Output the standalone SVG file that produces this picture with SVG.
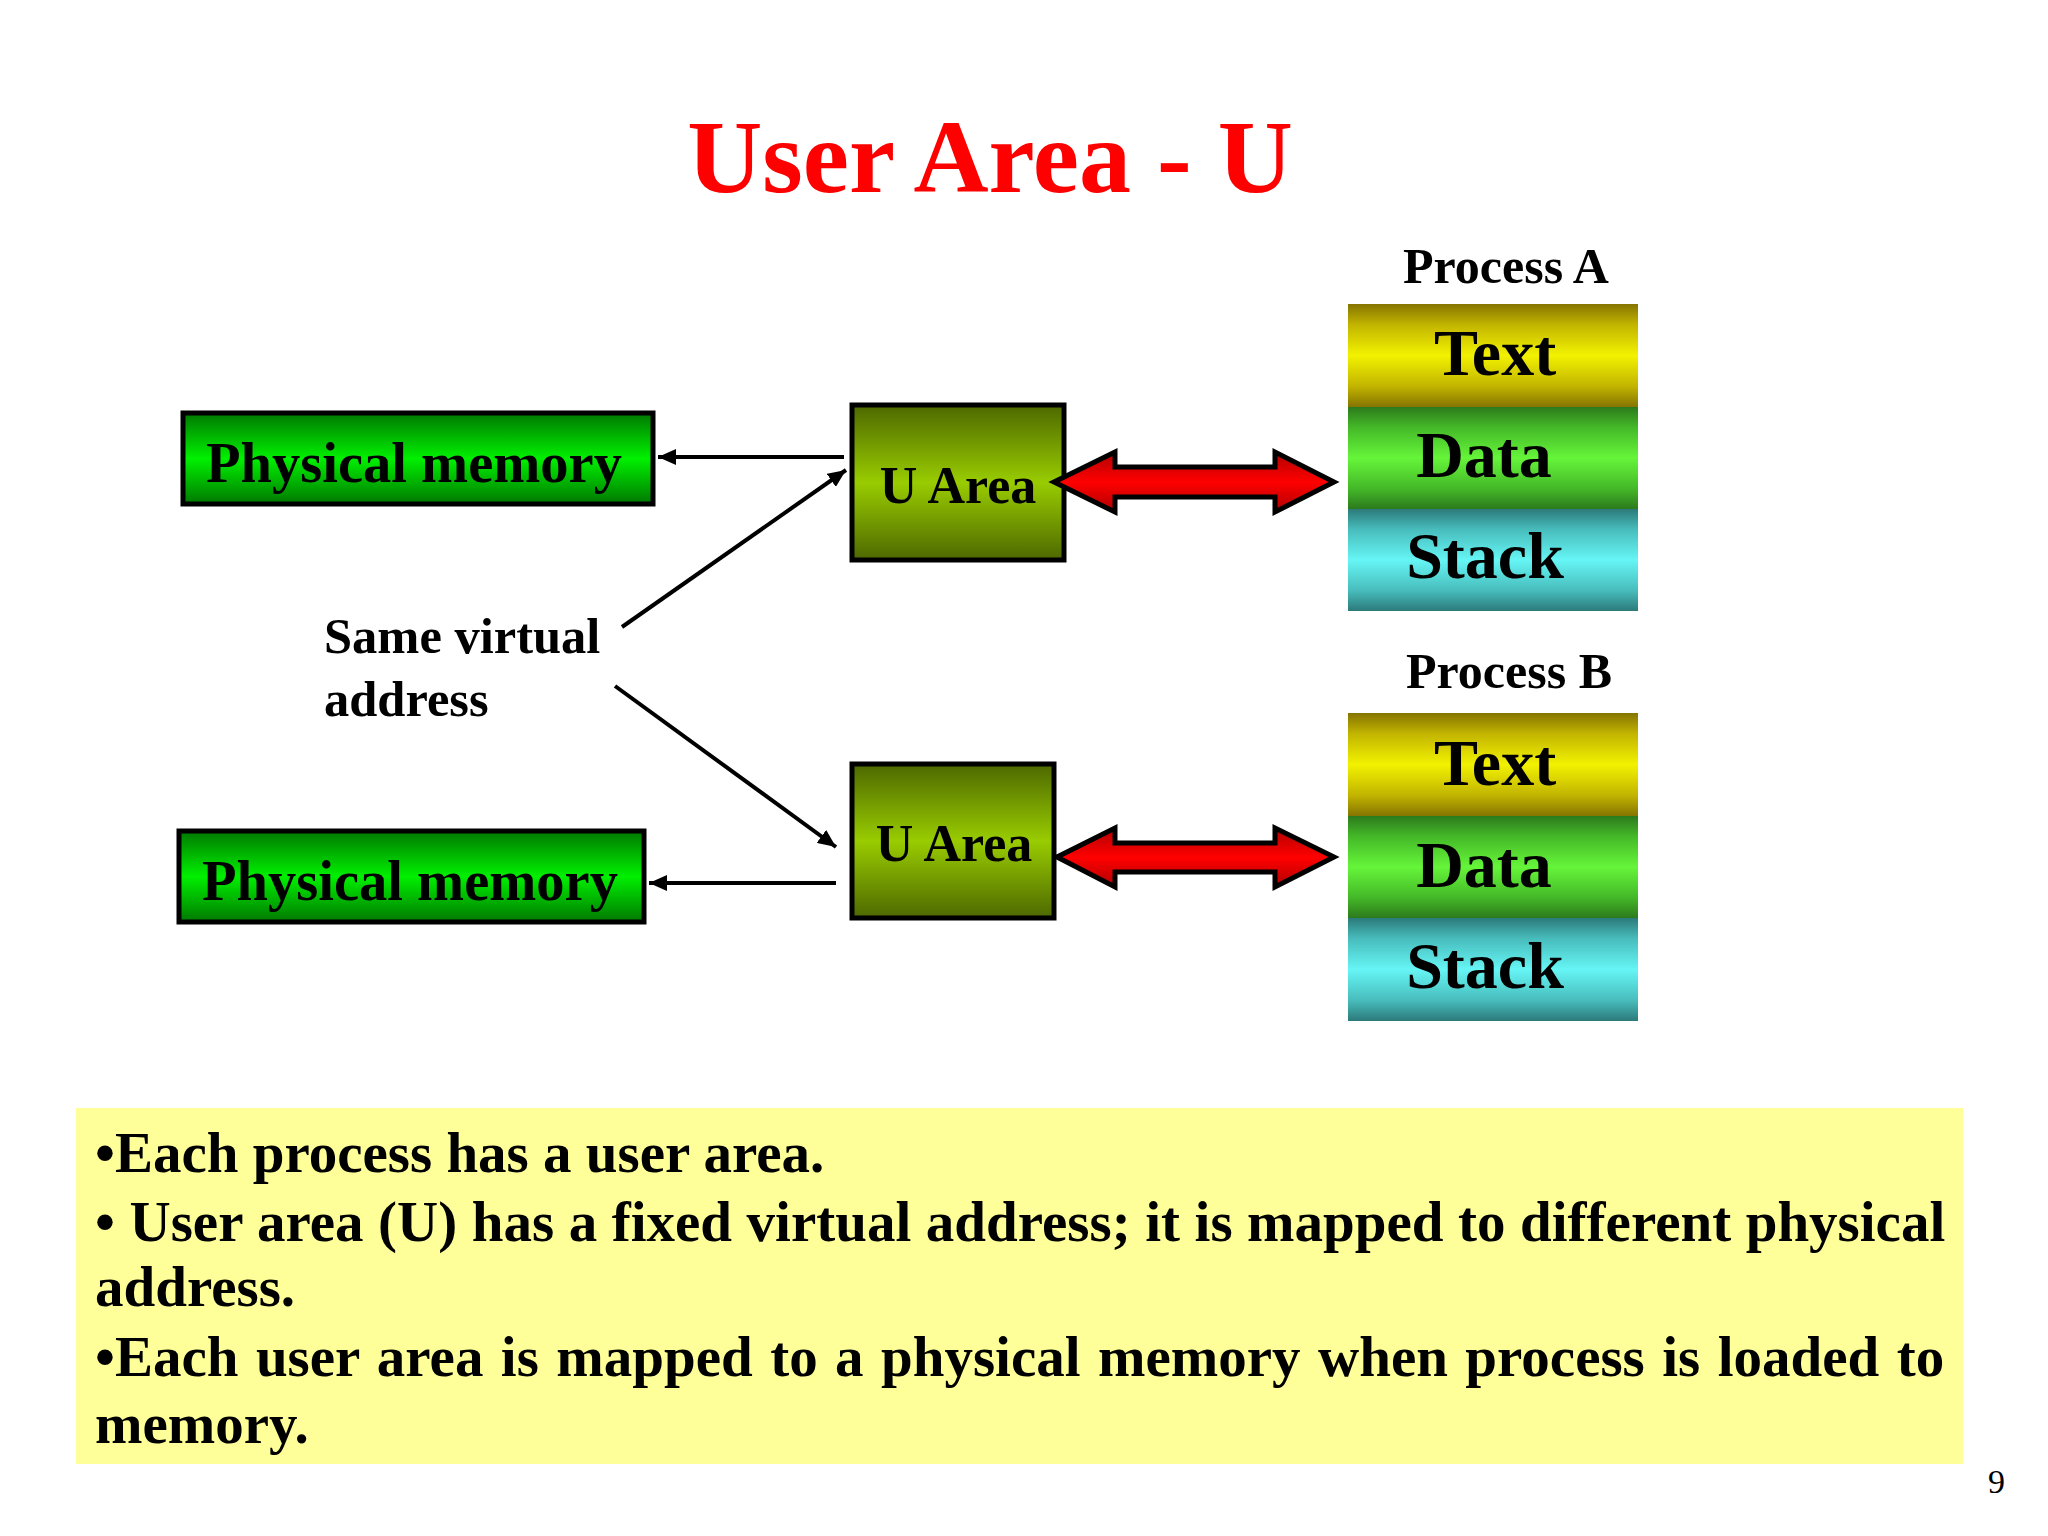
<svg xmlns="http://www.w3.org/2000/svg" width="2048" height="1536" viewBox="0 0 2048 1536">
<defs>
<style>
text{font-family:"Liberation Serif","Times New Roman",serif;font-weight:bold;fill:#000}
.title{font-size:104px;fill:#ff0000}
.pm{font-size:56.5px}
.ua{font-size:52px}
.proc{font-size:50px}
.seg{font-size:66px}
.lbl{font-size:50.5px}
.note{font-size:57px}
.num{font-size:34px;font-weight:normal}
.box{stroke:#000;stroke-width:5}
.conn{stroke:#000;stroke-width:4;fill:none}
.dbl{stroke:#000;stroke-width:5;stroke-linejoin:miter}
</style>
<linearGradient id="gGreen" x1="0" y1="0" x2="0" y2="1">
<stop offset="0" stop-color="#007800"/><stop offset="0.5" stop-color="#00f000"/><stop offset="1" stop-color="#007800"/>
</linearGradient>
<linearGradient id="gOlive" x1="0" y1="0" x2="0" y2="1">
<stop offset="0" stop-color="#4d6800"/><stop offset="0.5" stop-color="#99cc00"/><stop offset="1" stop-color="#4d6800"/>
</linearGradient>
<linearGradient id="gRed" x1="0" y1="0" x2="0" y2="1">
<stop offset="0" stop-color="#b00000"/><stop offset="0.5" stop-color="#ff0000"/><stop offset="1" stop-color="#b00000"/>
</linearGradient>
<linearGradient id="gYel" x1="0" y1="0" x2="0" y2="1">
<stop offset="0" stop-color="#857400"/><stop offset="0.2" stop-color="#c2b400"/><stop offset="0.5" stop-color="#f2f200"/><stop offset="0.8" stop-color="#c2b400"/><stop offset="1" stop-color="#857400"/>
</linearGradient>
<linearGradient id="gDat" x1="0" y1="0" x2="0" y2="1">
<stop offset="0" stop-color="#2c7a1c"/><stop offset="0.2" stop-color="#44b828"/><stop offset="0.5" stop-color="#66f53a"/><stop offset="0.8" stop-color="#44b828"/><stop offset="1" stop-color="#2c7a1c"/>
</linearGradient>
<linearGradient id="gStk" x1="0" y1="0" x2="0" y2="1">
<stop offset="0" stop-color="#2c7a7a"/><stop offset="0.2" stop-color="#48bcbc"/><stop offset="0.5" stop-color="#66f5f5"/><stop offset="0.8" stop-color="#48bcbc"/><stop offset="1" stop-color="#2c7a7a"/>
</linearGradient>
<marker id="ah" viewBox="0 0 18 16" refX="18" refY="8" markerWidth="18" markerHeight="16" markerUnits="userSpaceOnUse" orient="auto">
<path d="M0,0 L18,8 L0,16 Z" fill="#000"/>
</marker>
</defs>
<rect width="2048" height="1536" fill="#ffffff"/>

<text class="title" x="990" y="192" text-anchor="middle">User Area - U</text>

<g id="pmA">
<rect class="box" x="183" y="413" width="470" height="91" fill="url(#gGreen)"/>
<text class="pm" x="414" y="482" text-anchor="middle">Physical memory</text>
</g>
<g id="pmB">
<rect class="box" x="179" y="831" width="465" height="91" fill="url(#gGreen)"/>
<text class="pm" x="410" y="900" text-anchor="middle">Physical memory</text>
</g>
<g id="uA">
<rect class="box" x="852" y="405" width="212" height="155" fill="url(#gOlive)"/>
<text class="ua" x="958" y="503" text-anchor="middle">U Area</text>
</g>
<g id="uB">
<rect class="box" x="852" y="764" width="202" height="154" fill="url(#gOlive)"/>
<text class="ua" x="954" y="861" text-anchor="middle">U Area</text>
</g>
<g id="label">
<text class="lbl" x="324" y="653">Same virtual</text>
<text class="lbl" x="324" y="716">address</text>
</g>

<g id="procA">
<text class="proc" x="1506" y="283" text-anchor="middle">Process A</text>
<rect x="1348" y="304" width="290" height="103" fill="url(#gYel)"/>
<rect x="1348" y="407" width="290" height="102" fill="url(#gDat)"/>
<rect x="1348" y="509" width="290" height="102" fill="url(#gStk)"/>
<text class="seg" x="1495" y="375" text-anchor="middle">Text</text>
<text class="seg" x="1484" y="477" text-anchor="middle">Data</text>
<text class="seg" x="1485" y="578" text-anchor="middle">Stack</text>
</g>
<g id="procB">
<text class="proc" x="1509" y="688" text-anchor="middle">Process B</text>
<rect x="1348" y="713" width="290" height="103" fill="url(#gYel)"/>
<rect x="1348" y="816" width="290" height="102" fill="url(#gDat)"/>
<rect x="1348" y="918" width="290" height="103" fill="url(#gStk)"/>
<text class="seg" x="1495" y="785" text-anchor="middle">Text</text>
<text class="seg" x="1484" y="887" text-anchor="middle">Data</text>
<text class="seg" x="1485" y="988" text-anchor="middle">Stack</text>
</g>

<g id="connectors">
<line class="conn" x1="844" y1="457" x2="658" y2="457" marker-end="url(#ah)"/>
<line class="conn" x1="836" y1="883" x2="649" y2="883" marker-end="url(#ah)"/>
<line class="conn" x1="622" y1="627" x2="846" y2="470" marker-end="url(#ah)"/>
<line class="conn" x1="615" y1="686" x2="836" y2="847" marker-end="url(#ah)"/>
<path class="dbl" fill="url(#gRed)" d="M1054,482 L1115,452 L1115,467 L1275,467 L1275,452 L1334,482 L1275,512 L1275,497 L1115,497 L1115,512 Z"/>
<path class="dbl" fill="url(#gRed)" d="M1057,857 L1115,828 L1115,843 L1275,843 L1275,828 L1334,857 L1275,887 L1275,872 L1115,872 L1115,887 Z"/>
</g>

<g id="note">
<rect x="76" y="1108" width="1887" height="356" fill="#ffff99"/>
<text class="note" x="95" y="1172">•Each process has a user area.</text>
<text class="note" x="95" y="1241" word-spacing="0.3">• User area (U) has a fixed virtual address; it is mapped to different physical</text>
<text class="note" x="95" y="1306">address.</text>
<text class="note" x="95" y="1376" word-spacing="3.2">•Each user area is mapped to a physical memory when process is loaded to</text>
<text class="note" x="95" y="1443">memory.</text>
</g>
<text class="num" x="1988" y="1493">9</text>
</svg>
